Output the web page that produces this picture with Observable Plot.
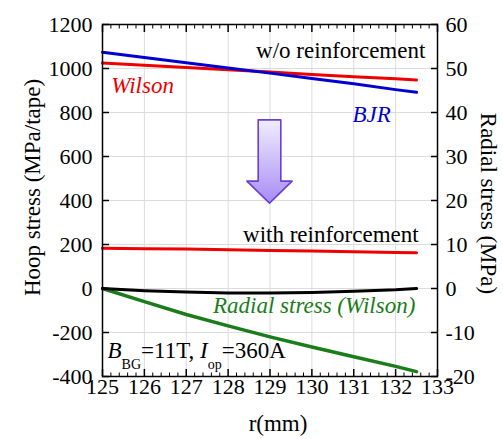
<!DOCTYPE html>
<html><head><meta charset="utf-8">
<script src="https://cdn.jsdelivr.net/npm/d3@7"></script>
<script src="https://cdn.jsdelivr.net/npm/@observablehq/plot@0.6"></script>
<style>body{margin:0;background:#fff} svg text{font-family:"Liberation Serif","Times New Roman",Tinos,serif !important}</style>
</head><body><div id="chart"></div>
<script>
// ---- data ----
const r = [125, 126, 127, 128, 129, 130, 131, 132, 132.5];
const hoopWilsonNoReinf = [1025, 1015, 1004, 994, 984, 973, 963, 953, 948];
const hoopBJRNoReinf   = [1074, 1050, 1026, 1002, 979, 955, 931, 904, 892];
const hoopWilsonReinf  = [183, 181, 179, 176, 173, 170, 167, 164, 163];
const radialReinf      = [0, -0.5, -0.8, -1.0, -1.0, -0.9, -0.6, -0.3, 0];   // MPa (right axis)
const radialWilson     = [0, -3.0, -5.9, -8.5, -11.0, -13.3, -15.5, -17.7, -18.9]; // MPa (right axis)

const xTicks = [125, 126, 127, 128, 129, 130, 131, 132, 133];
const hoopTicks = [-400, -200, 0, 200, 400, 600, 800, 1000, 1200];
const radialTicks = [-20, -10, 0, 10, 20, 30, 40, 50, 60];
const radialScale = 20; // hoop units per radial MPa (60 MPa <-> 1200 MPa/tape)

const plainLabels = [
  {text: "w/o reinforcement", x: 132.71, y: 1080},
  {text: "with reinforcement", x: 132.55, y: 245}
];
const wilsonLabel = {text: "Wilson", x: 125.21, y: 923};
const bjrLabel = {text: "BJR", x: 130.97, y: 791};
const radialLabel = {text: "Radial stress (Wilson)", x: 132.47, y: -77};
const condition = {text: "B_BG=11T, I_op=360A", x: 125.12, y: -282};

// big down arrow annotation (data units)
const arrowShape = [
  {y: 764, x1: 128.73, x2: 129.27},
  {y: 486, x1: 128.73, x2: 129.27},
  {y: 486, x1: 128.46, x2: 129.54},
  {y: 386, x1: 129.0, x2: 129.0}
];

// ---- build table ----
const rows = r.map((v, i) => ({
  r: v,
  wNo: hoopWilsonNoReinf[i],
  bjr: hoopBJRNoReinf[i],
  wRe: hoopWilsonReinf[i],
  radRe: radialReinf[i] * radialScale,
  radW: radialWilson[i] * radialScale
}));

const minorX = d3.range(0, 41).map(i => 125 + i * 0.2).filter(v => Math.abs(v - Math.round(v)) > 1e-6);
const FONT = "Liberation Serif, Times New Roman, serif";
const RED = "#ee0000", BLUE = "#0000d0", GREEN = "#1a7d1a";

const chart = Plot.plot({
  width: 503,
  height: 439,
  marginLeft: 102,
  marginRight: 66,
  marginTop: 24,
  marginBottom: 63,
  style: {fontFamily: FONT, fontSize: "22px", background: "white", color: "black"},
  x: {domain: [125, 133]},
  y: {domain: [-400, 1200]},
  marks: [
    Plot.gridX(xTicks, {stroke: "#dcdcdc", strokeOpacity: 1}),
    Plot.gridY(hoopTicks, {stroke: "#dcdcdc", strokeOpacity: 1}),
    Plot.areaX(arrowShape, {y: "y", x1: "x1", x2: "x2", fill: "url(#arrowGrad)", stroke: "#6a3fd6", strokeWidth: 1.6, curve: "linear"}),
    Plot.line(rows, {x: "r", y: "radW", stroke: GREEN, strokeWidth: 3.5}),
    Plot.line(rows, {x: "r", y: "radRe", stroke: "black", strokeWidth: 3}),
    Plot.line(rows, {x: "r", y: "wRe", stroke: RED, strokeWidth: 3}),
    Plot.line(rows, {x: "r", y: "wNo", stroke: RED, strokeWidth: 3}),
    Plot.line(rows, {x: "r", y: "bjr", stroke: BLUE, strokeWidth: 3}),
    // axes (ticks pointing inward)
    Plot.axisX(xTicks, {anchor: "bottom", tickSize: -7, tickPadding: 9, strokeWidth: 1.5, label: null,
      fontSize: 22, tickFormat: d => String(d)}),
    Plot.axisX(minorX, {anchor: "bottom", tickSize: -3.5, tickFormat: () => "", label: null}),
    Plot.axisX(xTicks, {anchor: "top", tickSize: -7, tickFormat: () => "", strokeWidth: 1.5, label: null}),
    Plot.axisX(minorX, {anchor: "top", tickSize: -3.5, tickFormat: () => "", label: null}),
    Plot.axisY(hoopTicks, {anchor: "left", tickSize: -7, tickPadding: 17, strokeWidth: 1.5, label: null,
      fontSize: 22, tickFormat: d => String(d)}),
    Plot.axisY(hoopTicks, {anchor: "right", tickSize: -7, tickPadding: 15, strokeWidth: 1.5, label: null,
      fontSize: 22, tickFormat: d => String(radialTicks[hoopTicks.indexOf(d)])}),
    Plot.frame({stroke: "black", strokeWidth: 1.5}),
    // annotations
    Plot.text(plainLabels, {x: "x", y: "y", text: "text", fill: "black", textAnchor: "end", fontSize: 23}),
    Plot.text([wilsonLabel], {x: "x", y: "y", text: "text", fill: RED, textAnchor: "start", fontSize: 23, fontStyle: "italic"}),
    Plot.text([bjrLabel], {x: "x", y: "y", text: "text", fill: BLUE, textAnchor: "start", fontSize: 23, fontStyle: "italic"}),
    Plot.text([radialLabel], {x: "x", y: "y", text: "text", fill: GREEN, textAnchor: "end", fontSize: 23, fontStyle: "italic"}),
    Plot.text([condition], {x: "x", y: "y", text: "text", textAnchor: "start", fontSize: 23}),
    // axis titles
    Plot.text(["Hoop stress (MPa/tape)"], {frameAnchor: "left", textAnchor: "middle", lineAnchor: "middle",
      dx: -70, dy: -13, rotate: -90, fontSize: 23, text: d => d}),
    Plot.text(["Radial stress (MPa)"], {frameAnchor: "right", textAnchor: "middle", lineAnchor: "middle",
      dx: 51, dy: 3, rotate: 90, fontSize: 23, text: d => d}),
    Plot.text(["r(mm)"], {frameAnchor: "bottom", textAnchor: "middle", lineAnchor: "middle",
      dx: 8, dy: 47, fontSize: 23, text: d => d})
  ]
});

// gradient for the arrow
const ns = "http://www.w3.org/2000/svg";
const defs = document.createElementNS(ns, "defs");
defs.innerHTML = '<linearGradient id="arrowGrad" x1="0" y1="0" x2="0" y2="1">' +
  '<stop offset="0" stop-color="#f0edff"/><stop offset="1" stop-color="#a88cf4"/></linearGradient>';
chart.insertBefore(defs, chart.firstChild);

// subscripts for the condition label
chart.querySelectorAll("text").forEach(t => {
  if (t.textContent === condition.text) {
    t.textContent = "";
    const parts = [
      {s: "B", italic: true},
      {s: "BG", sub: true},
      {s: "=11T, "},
      {s: "I", italic: true},
      {s: "op", sub: true},
      {s: "=360A"}
    ];
    let down = false;
    parts.forEach(p => {
      const ts = document.createElementNS(ns, "tspan");
      ts.textContent = p.s;
      if (p.italic) ts.setAttribute("font-style", "italic");
      if (p.sub) { ts.setAttribute("font-size", "14"); ts.setAttribute("dy", "11"); down = true; }
      else if (down) { ts.setAttribute("dy", "-11"); down = false; }
      t.appendChild(ts);
    });
  }
});

document.getElementById("chart").appendChild(chart);
</script>
</body></html>
